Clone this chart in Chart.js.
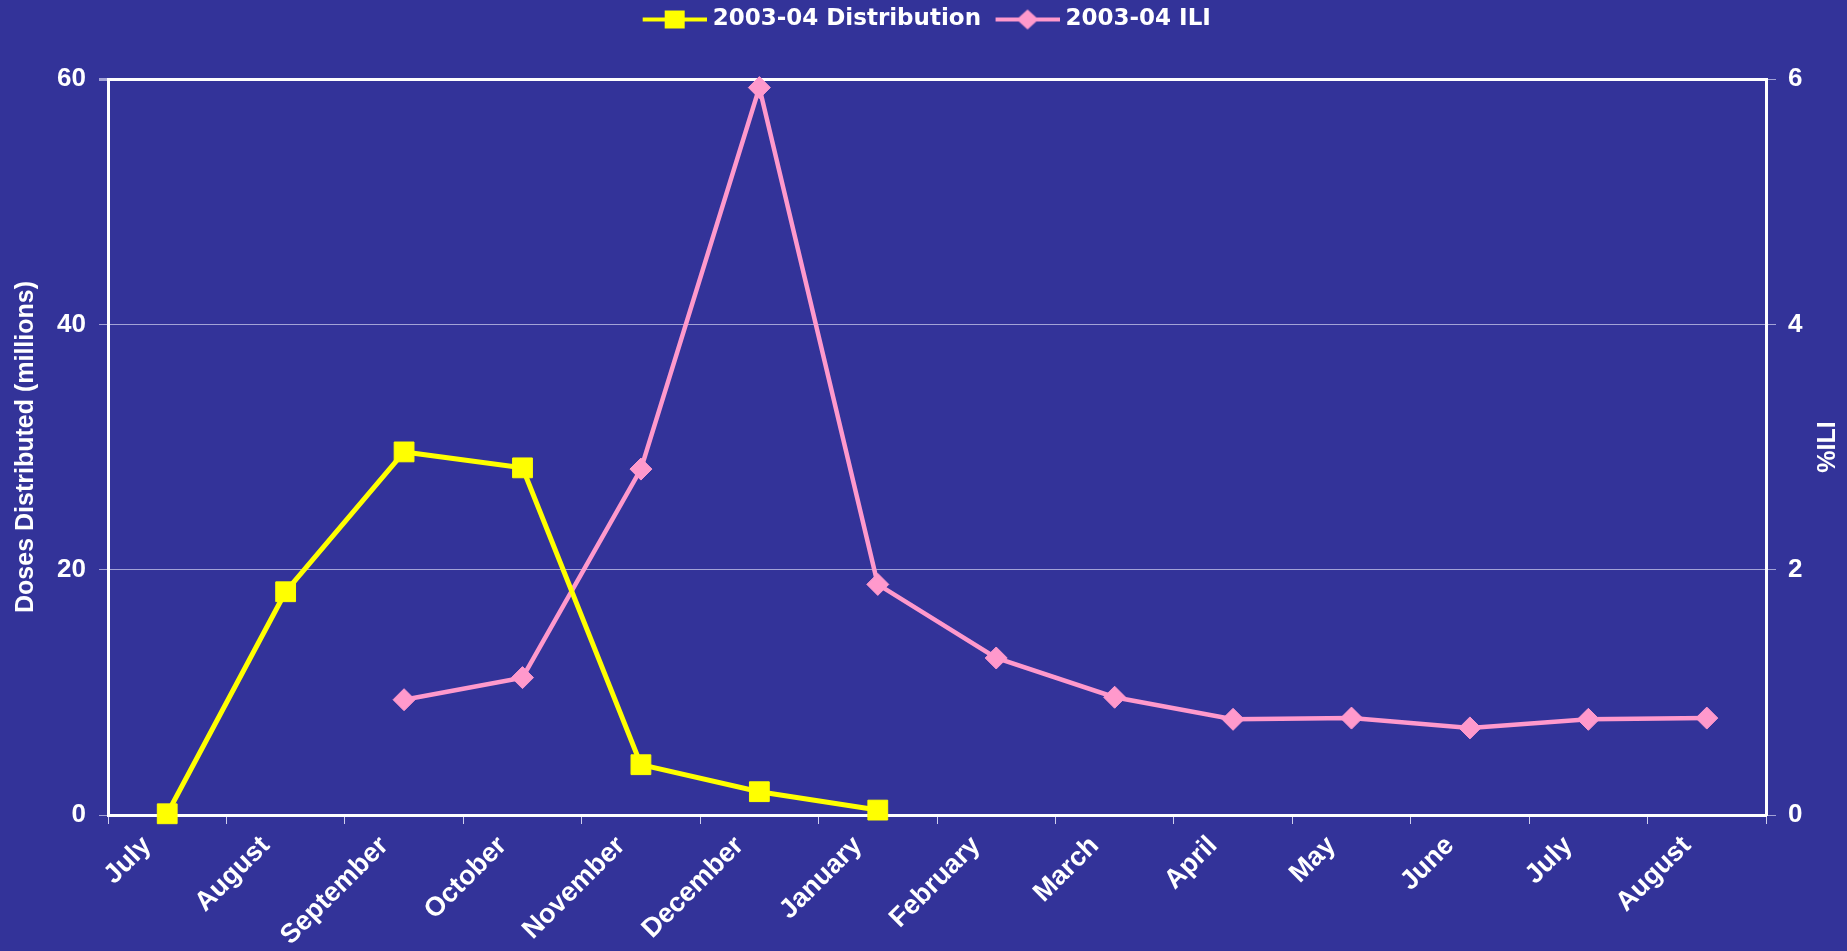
<!DOCTYPE html>
<html>
<head>
<meta charset="utf-8">
<script src="https://cdn.jsdelivr.net/npm/chart.js@4.4.1/dist/chart.umd.min.js"></script>
<style>
  html, body { margin: 0; padding: 0; background: #333399; }
  #wrap { width: 1847px; height: 951px; position: relative; }
</style>
</head>
<body>
<div id="wrap"><canvas id="c" width="1847" height="951"></canvas></div>
<script>
const months = ['July','August','September','October','November','December','January','February','March','April','May','June','July','August'];
const distribution = [0.1, 18.2, 29.6, 28.3, 4.1, 1.9, 0.4, null, null, null, null, null, null, null];
const ili = [null, null, 0.94, 1.12, 2.82, 5.93, 1.88, 1.28, 0.96, 0.78, 0.79, 0.71, 0.78, 0.79];
const leftTicks = [0, 20, 40, 60];
const rightTicks = [0, 2, 4, 6];

const BG = '#333399';
const YELLOW = '#FFFF00';
const PINK = '#FF99CC';
const GRID = '#A3A3D6';
const WHITE = '#FFFFFF';

function makeIcon(color, kind) {
  const c = document.createElement('canvas');
  c.width = 76; c.height = 24;
  const g = c.getContext('2d');
  const x0 = 12;
  g.strokeStyle = color; g.lineWidth = 4;
  g.beginPath(); g.moveTo(x0, 12); g.lineTo(x0 + 64, 12); g.stroke();
  g.fillStyle = color;
  if (kind === 'square') {
    g.fillRect(x0 + 22, 3, 20, 18);
  } else {
    const cx = x0 + 32;
    g.beginPath(); g.moveTo(cx, 2); g.lineTo(cx + 11, 12); g.lineTo(cx, 22); g.lineTo(cx - 11, 12); g.closePath(); g.fill();
  }
  return c;
}
const icons = [makeIcon(YELLOW, 'square'), makeIcon(PINK, 'diamond')];

const rightTitle = {
  id: 'rightTitle',
  afterDraw(chart) {
    const s = chart.scales.y1;
    const ctx = chart.ctx;
    ctx.save();
    ctx.fillStyle = WHITE;
    ctx.font = 'bold 25px "Liberation Sans", Arial, sans-serif';
    ctx.textAlign = 'center';
    ctx.textBaseline = 'middle';
    ctx.translate(s.left + 62, (s.top + s.bottom) / 2);
    ctx.rotate(-Math.PI / 2);
    ctx.fillText('%ILI', 0, 0);
    ctx.restore();
  }
};

new Chart(document.getElementById('c'), {
  type: 'line',
  data: {
    labels: months,
    datasets: [
      {
        label: '2003-04 Distribution',
        data: distribution,
        yAxisID: 'y',
        borderColor: YELLOW,
        backgroundColor: YELLOW,
        borderWidth: 5,
        pointStyle: 'rect',
        pointRadius: 14,
        pointBorderWidth: 1,
        pointBorderColor: YELLOW,
        pointBackgroundColor: YELLOW,
        tension: 0,
        spanGaps: false,
        clip: false
      },
      {
        label: '2003-04 ILI',
        data: ili,
        yAxisID: 'y1',
        borderColor: PINK,
        backgroundColor: PINK,
        borderWidth: 4.5,
        pointStyle: 'rectRot',
        pointRadius: 11,
        pointBorderWidth: 1,
        pointBorderColor: PINK,
        pointBackgroundColor: PINK,
        tension: 0,
        spanGaps: false,
        clip: false
      }
    ]
  },
  options: {
    responsive: false,
    animation: false,
    devicePixelRatio: 1,
    layout: { padding: { left: 0, right: 0, top: 0, bottom: 0 } },
    plugins: {
      tooltip: { enabled: false },
      legend: {
        display: true,
        position: 'top',
        weight: 3000,
        labels: {
          color: WHITE,
          font: { family: '"DejaVu Sans", sans-serif', size: 23, weight: 'bold' },
          usePointStyle: true,
          pointStyleWidth: 65,
          padding: 8,
          generateLabels(chart) {
            const items = Chart.defaults.plugins.legend.labels.generateLabels(chart);
            items.forEach((it, i) => { it.pointStyle = icons[i]; it.fontColor = WHITE; });
            return items;
          }
        }
      },
      subtitle: {
        display: true,
        text: '',
        padding: 0,
        font: { size: 38, lineHeight: 1 }
      }
    },
    scales: {
      x: {
        type: 'category',
        offset: true,
        afterFit(s) { s.height = 136; },
        grid: {
          offset: true,
          drawOnChartArea: false,
          drawTicks: true,
          tickLength: 9,
          tickColor: '#D0D0EE'
        },
        border: { color: WHITE, width: 3 },
        ticks: {
          color: WHITE,
          font: { family: '"Liberation Sans", Arial, sans-serif', size: 27, weight: 'bold' },
          minRotation: 45,
          maxRotation: 45,
          autoSkip: false,
          padding: 6,
          labelOffset: -20
        }
      },
      y: {
        position: 'left',
        min: 0,
        max: 60,
        afterFit(s) { s.width = 108; },
        afterBuildTicks(s) { s.ticks = leftTicks.map(v => ({ value: v })); },
        grid: {
          color: (c) => (c.tick && c.tick.value === 60) ? WHITE : GRID,
          lineWidth: (c) => (c.tick && c.tick.value === 60) ? 3 : 1,
          tickColor: GRID,
          tickLength: 9,
          drawTicks: true
        },
        border: { color: WHITE, width: 3 },
        ticks: {
          color: WHITE,
          font: { family: '"Liberation Sans", Arial, sans-serif', size: 26, weight: 'bold' },
          padding: 13
        },
        title: {
          display: true,
          text: 'Doses Distributed (millions)',
          color: WHITE,
          font: { family: '"Liberation Sans", Arial, sans-serif', size: 25, weight: 'bold', lineHeight: 1.2 },
          padding: { top: 11, bottom: 0 }
        }
      },
      y1: {
        position: 'right',
        min: 0,
        max: 6,
        afterFit(s) { s.width = 81; },
        afterBuildTicks(s) { s.ticks = rightTicks.map(v => ({ value: v })); },
        grid: {
          drawOnChartArea: false,
          drawTicks: true,
          tickLength: 10,
          tickColor: GRID
        },
        border: { color: WHITE, width: 3 },
        ticks: {
          color: WHITE,
          font: { family: '"Liberation Sans", Arial, sans-serif', size: 26, weight: 'bold' },
          padding: 12
        },
        title: { display: false }
      }
    }
  },
  plugins: [rightTitle]
});
</script>
</body>
</html>
